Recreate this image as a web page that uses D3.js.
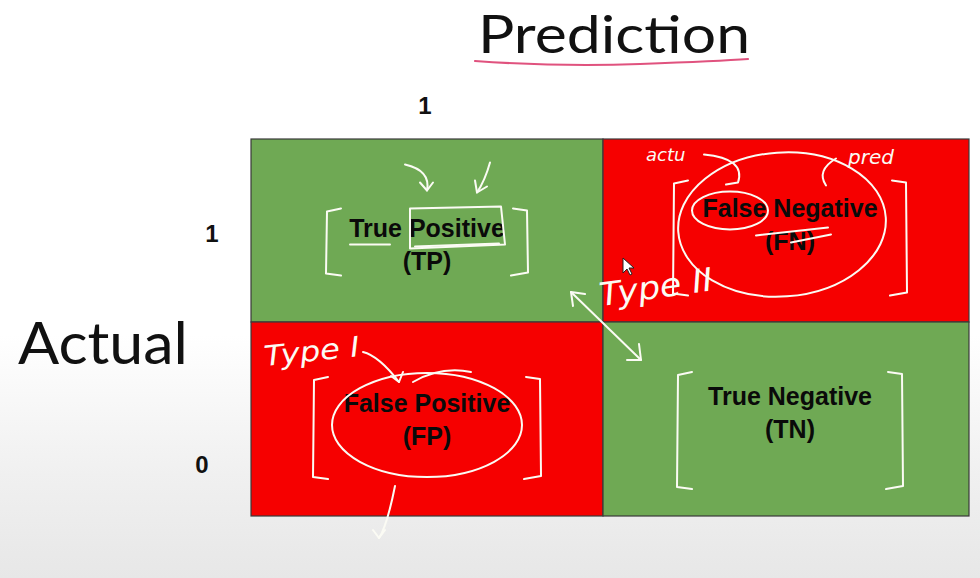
<!DOCTYPE html>
<html>
<head>
<meta charset="utf-8">
<script src="https://cdn.jsdelivr.net/npm/d3@7"></script>
<style>
  body { margin: 0; background: #fff; }
  svg { display: block; }
</style>
</head>
<body>
<script>
// confusion matrix: actual (rows) vs prediction (columns)

// data
var predClasses = ["1", "0"];
var actualClasses = ["1", "0"];
var predTickShown = ["1"];            // only "1" is visible above the grid
var cellNames = [["True Positive", "False Negative"],
                 ["False Positive", "True Negative"]];
var cellAbbr = [["(TP)", "(FN)"],
                ["(FP)", "(TN)"]];
var cellCorrect = [[true, false],
                   [false, true]];
var errorTypes = ["Type I", "Type II"];

var width = 980, height = 578;

var svg = d3.select("body").append("svg")
  .attr("width", width)
  .attr("height", height);

// grey fade at the bottom of the slide
var defs = svg.append("defs");
var grad = defs.append("linearGradient")
  .attr("id", "fade")
  .attr("x1", 0).attr("y1", 0).attr("x2", 0).attr("y2", 1);
grad.append("stop").attr("offset", "0%").attr("stop-color", "#ffffff");
grad.append("stop").attr("offset", "58%").attr("stop-color", "#ffffff");
grad.append("stop").attr("offset", "82%").attr("stop-color", "#f0f0f0");
grad.append("stop").attr("offset", "100%").attr("stop-color", "#e7e7e7");
svg.append("rect")
  .attr("width", width).attr("height", height)
  .attr("fill", "url(#fade)");

// scales: cell edges by index
var x = d3.scaleLinear().domain([0, 1, 2]).range([251, 603, 969]);
var y = d3.scaleLinear().domain([0, 1, 2]).range([139, 322, 516]);

var green = "#6fa954", red = "#f60000";

// build cells
var cells = [];
actualClasses.forEach(function (a, r) {
  predClasses.forEach(function (p, c) {
    cells.push({
      row: r, col: c,
      name: cellNames[r][c],
      abbr: cellAbbr[r][c],
      correct: cellCorrect[r][c]
    });
  });
});

function cx(d) { return (x(d.col) + x(d.col + 1)) / 2; }
function cy(d) { return (y(d.row) + y(d.row + 1)) / 2; }

// vertical nudge of each label block (slide layout)
var labelShift = [[20, 0], [7, 0]];

var grid = svg.append("g");

grid.selectAll("rect.cell")
  .data(cells)
  .enter().append("rect")
  .attr("class", "cell")
  .attr("x", function (d) { return x(d.col); })
  .attr("y", function (d) { return y(d.row); })
  .attr("width", function (d) { return x(d.col + 1) - x(d.col); })
  .attr("height", function (d) { return y(d.row + 1) - y(d.row); })
  .attr("fill", function (d) { return d.correct ? green : red; })
  .attr("stroke", "#3a3a3a")
  .attr("stroke-width", 1.2);

// cell labels
var labels = grid.selectAll("g.lab")
  .data(cells)
  .enter().append("g")
  .attr("class", "lab")
  .attr("transform", function (d) {
    return "translate(" + (cx(d) + (d.col ? 4 : 0)) + "," + (cy(d) + labelShift[d.row][d.col]) + ")";
  });

labels.append("text")
  .attr("y", -14)
  .attr("text-anchor", "middle")
  .style("font-family", "'Liberation Sans', Arial, sans-serif")
  .style("font-weight", "bold")
  .style("font-size", "25px")
  .attr("fill", "#0a0a0a")
  .text(function (d) { return d.name; });

labels.append("text")
  .attr("y", 19)
  .attr("text-anchor", "middle")
  .style("font-family", "'Liberation Sans', Arial, sans-serif")
  .style("font-weight", "bold")
  .style("font-size", "25px")
  .attr("fill", "#0a0a0a")
  .text(function (d) { return d.abbr; });

// axis titles
svg.append("text")
  .attr("x", 614).attr("y", 53)
  .attr("text-anchor", "middle")
  .style("font-family", "Lato, 'Open Sans', sans-serif")
  .style("font-size", "52px")
  .attr("textLength", 272).attr("lengthAdjust", "spacingAndGlyphs")
  .attr("fill", "#111")
  .text("Prediction");

svg.append("path")
  .attr("d", "M475,61 Q560,67 640,64 T748,59")
  .attr("fill", "none")
  .attr("stroke", "#e0527e")
  .attr("stroke-width", 2.2)
  .attr("stroke-linecap", "round");

svg.append("text")
  .attr("x", 103).attr("y", 364)
  .attr("text-anchor", "middle")
  .style("font-family", "Lato, 'Open Sans', sans-serif")
  .style("font-size", "58px")
  .attr("textLength", 170).attr("lengthAdjust", "spacingAndGlyphs")
  .attr("fill", "#111")
  .text("Actual");

// tick labels
svg.selectAll("text.ptick")
  .data(predTickShown)
  .enter().append("text")
  .attr("class", "ptick")
  .attr("x", function (d) { var i = predClasses.indexOf(d); return (x(i) + x(i + 1)) / 2 - 2; })
  .attr("y", 114)
  .attr("text-anchor", "middle")
  .style("font-family", "'Liberation Sans', Arial, sans-serif")
  .style("font-weight", "bold")
  .style("font-size", "24px")
  .attr("fill", "#111")
  .text(function (d) { return d; });

svg.selectAll("text.atick")
  .data(actualClasses)
  .enter().append("text")
  .attr("class", "atick")
  .attr("x", function (d, i) { return i ? 202 : 212; })
  .attr("y", function (d, i) { return (y(i) + y(i + 1)) / 2 + (i ? 54 : 11); })
  .attr("text-anchor", "middle")
  .style("font-family", "'Liberation Sans', Arial, sans-serif")
  .style("font-weight", "bold")
  .style("font-size", "24px")
  .attr("fill", "#111")
  .text(function (d) { return d; });

// hand-drawn annotations (white pen)
var ink = svg.append("g")
  .attr("fill", "none")
  .attr("stroke", "#fbfbf4")
  .attr("stroke-width", 2)
  .attr("stroke-linecap", "round")
  .attr("stroke-linejoin", "round");

// brackets around each cell label
var brk = [[{ w: 100, t: -22, b: 45 }, { w: 116, t: -50, b: 65 }],
           [{ w: 113, t: -42, b: 60 }, { w: 112, t: -47, b: 70 }]];
cells.forEach(function (d) {
  var s = brk[d.row][d.col];
  var mx = cx(d) + (d.col ? 4 : 0), my = cy(d);
  var l = mx - s.w, r = mx + s.w;
  ink.append("path")
    .attr("d", "M" + (l + 14) + "," + (my + s.t) + " L" + l + "," + (my + s.t + 3) +
      " L" + (l - 1) + "," + (my + s.b - 2) + " L" + (l + 14) + "," + (my + s.b));
  ink.append("path")
    .attr("d", "M" + (r - 14) + "," + (my + s.t) + " L" + r + "," + (my + s.t + 2) +
      " L" + (r + 1) + "," + (my + s.b - 3) + " L" + (r - 16) + "," + (my + s.b));
});

// loops around the error cells
var fn = cells[1], fp = cells[2], tp = cells[0];
ink.append("ellipse")
  .attr("cx", cx(fn) - 4).attr("cy", cy(fn) - 6)
  .attr("rx", 104).attr("ry", 72)
  .attr("transform", "rotate(-4," + (cx(fn) - 4) + "," + (cy(fn) - 6) + ")");
ink.append("ellipse")
  .attr("cx", cx(fn) - 56).attr("cy", cy(fn) - 20)
  .attr("rx", 38).attr("ry", 19);
ink.append("ellipse")
  .attr("cx", cx(fp)).attr("cy", cy(fp) + 6)
  .attr("rx", 95).attr("ry", 52);

// box round "Positive" in TP and underlines
ink.append("path")
  .attr("d", "M" + (cx(tp) - 17) + "," + (cy(tp) - 22) + " L" + (cx(tp) + 74) + "," + (cy(tp) - 24) +
    " L" + (cx(tp) + 78) + "," + (cy(tp) + 14) + " L" + (cx(tp) - 17) + "," + (cy(tp) + 18) + " Z");
ink.append("path").attr("d", "M" + (cx(tp) - 77) + "," + (cy(tp) + 14) + " L" + (cx(tp) - 37) + "," + (cy(tp) + 14));
ink.append("path").attr("d", "M" + (cx(tp) - 12) + "," + (cy(tp) + 16) + " L" + (cx(tp) + 72) + "," + (cy(tp) + 13));

// little arrows pointing into TP
ink.append("path").attr("d", "M" + (cx(tp) - 22) + "," + (cy(tp) - 66) + " Q" + (cx(tp) + 4) + "," + (cy(tp) - 60) + " " + (cx(tp)) + "," + (cy(tp) - 40));
ink.append("path").attr("d", "M" + (cx(tp) - 7) + "," + (cy(tp) - 48) + " L" + (cx(tp)) + "," + (cy(tp) - 40) + " L" + (cx(tp) + 6) + "," + (cy(tp) - 48));
ink.append("path").attr("d", "M" + (cx(tp) + 63) + "," + (cy(tp) - 68) + " Q" + (cx(tp) + 58) + "," + (cy(tp) - 50) + " " + (cx(tp) + 50) + "," + (cy(tp) - 38));
ink.append("path").attr("d", "M" + (cx(tp) + 48) + "," + (cy(tp) - 50) + " L" + (cx(tp) + 50) + "," + (cy(tp) - 38) + " L" + (cx(tp) + 60) + "," + (cy(tp) - 44));

// FN: "actual" and "pred" notes with hooks
ink.append("path").attr("d", "M" + (cx(fn) - 82) + "," + (cy(fn) - 76) + " Q" + (cx(fn) - 40) + "," + (cy(fn) - 72) + " " + (cx(fn) - 48) + "," + (cy(fn) - 48) + " L" + (cx(fn) - 60) + "," + (cy(fn) - 46));
ink.append("path").attr("d", "M" + (cx(fn) + 50) + "," + (cy(fn) - 72) + " Q" + (cx(fn) + 30) + "," + (cy(fn) - 60) + " " + (cx(fn) + 40) + "," + (cy(fn) - 45));
ink.append("path").attr("d", "M" + (cx(fn) - 30) + "," + (cy(fn) + 5) + " L" + (cx(fn) + 42) + "," + (cy(fn) - 3) + " M" + (cx(fn) + 5) + "," + (cy(fn) + 12) + " L" + (cx(fn) + 45) + "," + (cy(fn) + 4));

ink.append("text")
  .attr("x", cx(fn) - 140).attr("y", cy(fn) - 70)
  .attr("stroke", "none").attr("fill", "#fbfbf4")
  .style("font-family", "'DejaVu Sans', sans-serif")
  .style("font-style", "italic")
  .style("font-weight", "200")
  .style("font-size", "18px")
  .text("actu");
ink.append("text")
  .attr("x", cx(fn) + 62).attr("y", cy(fn) - 67)
  .attr("stroke", "none").attr("fill", "#fbfbf4")
  .style("font-family", "'DejaVu Sans', sans-serif")
  .style("font-style", "italic")
  .style("font-weight", "200")
  .style("font-size", "20px")
  .text("pred");

// Type I / Type II notes
ink.append("text")
  .attr("x", x(0) + 14).attr("y", y(1) + 44)
  .attr("stroke", "none").attr("fill", "#fbfbf4")
  .attr("transform", "rotate(-6," + (x(0) + 14) + "," + (y(1) + 44) + ")")
  .style("font-family", "'DejaVu Sans', sans-serif")
  .style("font-style", "italic")
  .style("font-size", "28px")
  .style("font-weight", "200")
  .attr("textLength", 96).attr("lengthAdjust", "spacingAndGlyphs")
  .text(errorTypes[0]);
ink.append("path").attr("d", "M" + (x(0) + 112) + "," + (y(1) + 30) + " Q" + (x(0) + 128) + "," + (y(1) + 34) + " " + (x(0) + 148) + "," + (y(1) + 60));
ink.append("path").attr("d", "M" + (x(0) + 140) + "," + (y(1) + 54) + " L" + (x(0) + 148) + "," + (y(1) + 60) + " L" + (x(0) + 152) + "," + (y(1) + 50));
ink.append("path").attr("d", "M" + (x(0) + 162) + "," + (y(1) + 60) + " Q" + (x(0) + 190) + "," + (y(1) + 44) + " " + (x(0) + 220) + "," + (y(1) + 50));

ink.append("text")
  .attr("x", x(1) - 2).attr("y", y(1) - 16)
  .attr("stroke", "none").attr("fill", "#fbfbf4")
  .attr("transform", "rotate(-8," + (x(1) - 2) + "," + (y(1) - 16) + ")")
  .style("font-family", "'DejaVu Sans', sans-serif")
  .style("font-style", "italic")
  .style("font-weight", "200")
  .style("font-size", "32px")
  .attr("textLength", 114).attr("lengthAdjust", "spacingAndGlyphs")
  .text(errorTypes[1]);

// double arrow from TP corner to TN
ink.append("path").attr("d", "M" + (x(1) - 32) + "," + (y(1) - 30) + " L" + (x(1) + 38) + "," + (y(1) + 38));
ink.append("path").attr("d", "M" + (x(1) - 30) + "," + (y(1) - 16) + " L" + (x(1) - 32) + "," + (y(1) - 30) + " L" + (x(1) - 18) + "," + (y(1) - 28));
ink.append("path").attr("d", "M" + (x(1) + 24) + "," + (y(1) + 38) + " L" + (x(1) + 38) + "," + (y(1) + 38) + " L" + (x(1) + 36) + "," + (y(1) + 22));

// FP stroke going down out of the grid
ink.append("path").attr("d", "M" + (cx(fp) - 32) + "," + (y(2) - 30) + " Q" + (cx(fp) - 40) + "," + (y(2) + 10) + " " + (cx(fp) - 48) + "," + (y(2) + 22));
ink.append("path").attr("d", "M" + (cx(fp) - 54) + "," + (y(2) + 14) + " L" + (cx(fp) - 48) + "," + (y(2) + 22) + " L" + (cx(fp) - 42) + "," + (y(2) + 14));

// mouse pointer left on the slide
svg.append("path")
  .attr("transform", "translate(" + (x(1) + 20) + "," + (y(1) - 64) + ")")
  .attr("d", "M0,0 L0,15 L4,11 L7,17 L9,16 L6,10 L11,10 Z")
  .attr("fill", "#fff")
  .attr("stroke", "#222")
  .attr("stroke-width", 1);
</script>
</body>
</html>
